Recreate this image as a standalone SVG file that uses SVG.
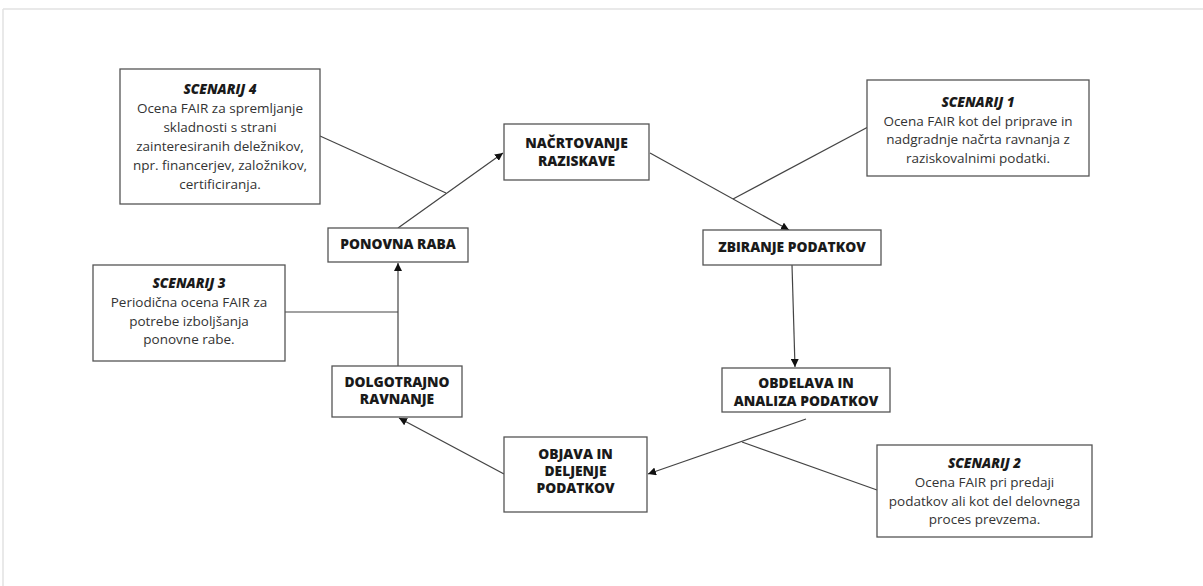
<svg xmlns="http://www.w3.org/2000/svg" width="1203" height="586" viewBox="0 0 1203 586">
<style>
.box{fill:#fff;stroke:#555;stroke-width:1.3}
.lbl{font-family:"Open Sans","Liberation Sans",sans-serif;font-size:13.8px;font-weight:800;fill:#1a1a1a;text-anchor:middle}
.tt{font-family:"Open Sans","Liberation Sans",sans-serif;font-size:13.5px;font-weight:800;font-style:italic;fill:#1a1a1a;text-anchor:middle}
.tx{font-family:"Open Sans","Liberation Sans",sans-serif;font-size:13.5px;fill:#333;text-anchor:middle}
.con{stroke:#444;stroke-width:1.2;fill:none}
.frame{stroke:#e2e2e2;stroke-width:1.5}
</style>
<defs>
<marker id="ah" viewBox="0 0 10 10" refX="10" refY="5" markerWidth="8" markerHeight="8" markerUnits="userSpaceOnUse" orient="auto">
<path d="M0,0 L10,5 L0,10 z" fill="#111"/>
</marker>
</defs>
<rect width="1203" height="586" fill="#fff"/>
<line class="frame" x1="3" y1="9" x2="1203" y2="9"/>
<line class="frame" x1="3" y1="9" x2="3" y2="586"/>
<g id="connectors">
<line class="con" x1="398" y1="228" x2="503" y2="153" marker-end="url(#ah)"/>
<line class="con" x1="650" y1="153" x2="789" y2="230" marker-end="url(#ah)"/>
<line class="con" x1="792" y1="265" x2="795" y2="367" marker-end="url(#ah)"/>
<line class="con" x1="806" y1="419" x2="648" y2="474" marker-end="url(#ah)"/>
<line class="con" x1="504" y1="474" x2="399" y2="418" marker-end="url(#ah)"/>
<line class="con" x1="398" y1="366" x2="398" y2="263" marker-end="url(#ah)"/>
<line class="con" x1="320" y1="136" x2="446" y2="193"/>
<line class="con" x1="868" y1="127" x2="733" y2="199"/>
<line class="con" x1="877" y1="490" x2="742" y2="442"/>
<line class="con" x1="285" y1="312" x2="398" y2="312"/>
</g>
<g id="n-nacrtovanje">
<rect class="box" x="504" y="124" width="145" height="56"/>
<text class="lbl" x="576.5" y="148">NAČRTOVANJE</text>
<text class="lbl" x="576.5" y="166">RAZISKAVE</text>
</g>
<g id="n-zbiranje">
<rect class="box" x="703" y="230" width="178" height="35"/>
<text class="lbl" x="792" y="252">ZBIRANJE PODATKOV</text>
</g>
<g id="n-obdelava">
<rect class="box" x="722" y="368" width="168" height="44"/>
<text class="lbl" x="806" y="388">OBDELAVA IN</text>
<text class="lbl" x="806" y="406">ANALIZA PODATKOV</text>
</g>
<g id="n-objava">
<rect class="box" x="504" y="437" width="143" height="75"/>
<text class="lbl" x="575.5" y="459">OBJAVA IN</text>
<text class="lbl" x="575.5" y="476">DELJENJE</text>
<text class="lbl" x="575.5" y="493">PODATKOV</text>
</g>
<g id="n-dolgotrajno">
<rect class="box" x="332" y="366" width="130" height="51"/>
<text class="lbl" x="397" y="387">DOLGOTRAJNO</text>
<text class="lbl" x="397" y="404">RAVNANJE</text>
</g>
<g id="n-ponovna">
<rect class="box" x="328" y="228" width="140" height="34"/>
<text class="lbl" x="398" y="249">PONOVNA RABA</text>
</g>
<g id="s4">
<rect class="box" x="120" y="69" width="200" height="135"/>
<text class="tt" x="220" y="94">SCENARIJ 4</text>
<text class="tx" x="220" y="113">Ocena FAIR za spremljanje</text>
<text class="tx" x="220" y="132">skladnosti s strani</text>
<text class="tx" x="220" y="151">zainteresiranih deležnikov,</text>
<text class="tx" x="220" y="170">npr. financerjev, založnikov,</text>
<text class="tx" x="220" y="189">certificiranja.</text>
</g>
<g id="s1">
<rect class="box" x="867" y="80" width="222" height="96"/>
<text class="tt" x="978" y="107">SCENARIJ 1</text>
<text class="tx" x="978" y="126">Ocena FAIR kot del priprave in</text>
<text class="tx" x="978" y="144">nadgradnje načrta ravnanja z</text>
<text class="tx" x="978" y="163">raziskovalnimi podatki.</text>
</g>
<g id="s2">
<rect class="box" x="877" y="445" width="215" height="92"/>
<text class="tt" x="984.5" y="468">SCENARIJ 2</text>
<text class="tx" x="984.5" y="487">Ocena FAIR pri predaji</text>
<text class="tx" x="984.5" y="506">podatkov ali kot del delovnega</text>
<text class="tx" x="984.5" y="524">proces prevzema.</text>
</g>
<g id="s3">
<rect class="box" x="93" y="265" width="192" height="96"/>
<text class="tt" x="189" y="288">SCENARIJ 3</text>
<text class="tx" x="189" y="307">Periodična ocena FAIR za</text>
<text class="tx" x="189" y="326">potrebe izboljšanja</text>
<text class="tx" x="189" y="344">ponovne rabe.</text>
</g>
</svg>
